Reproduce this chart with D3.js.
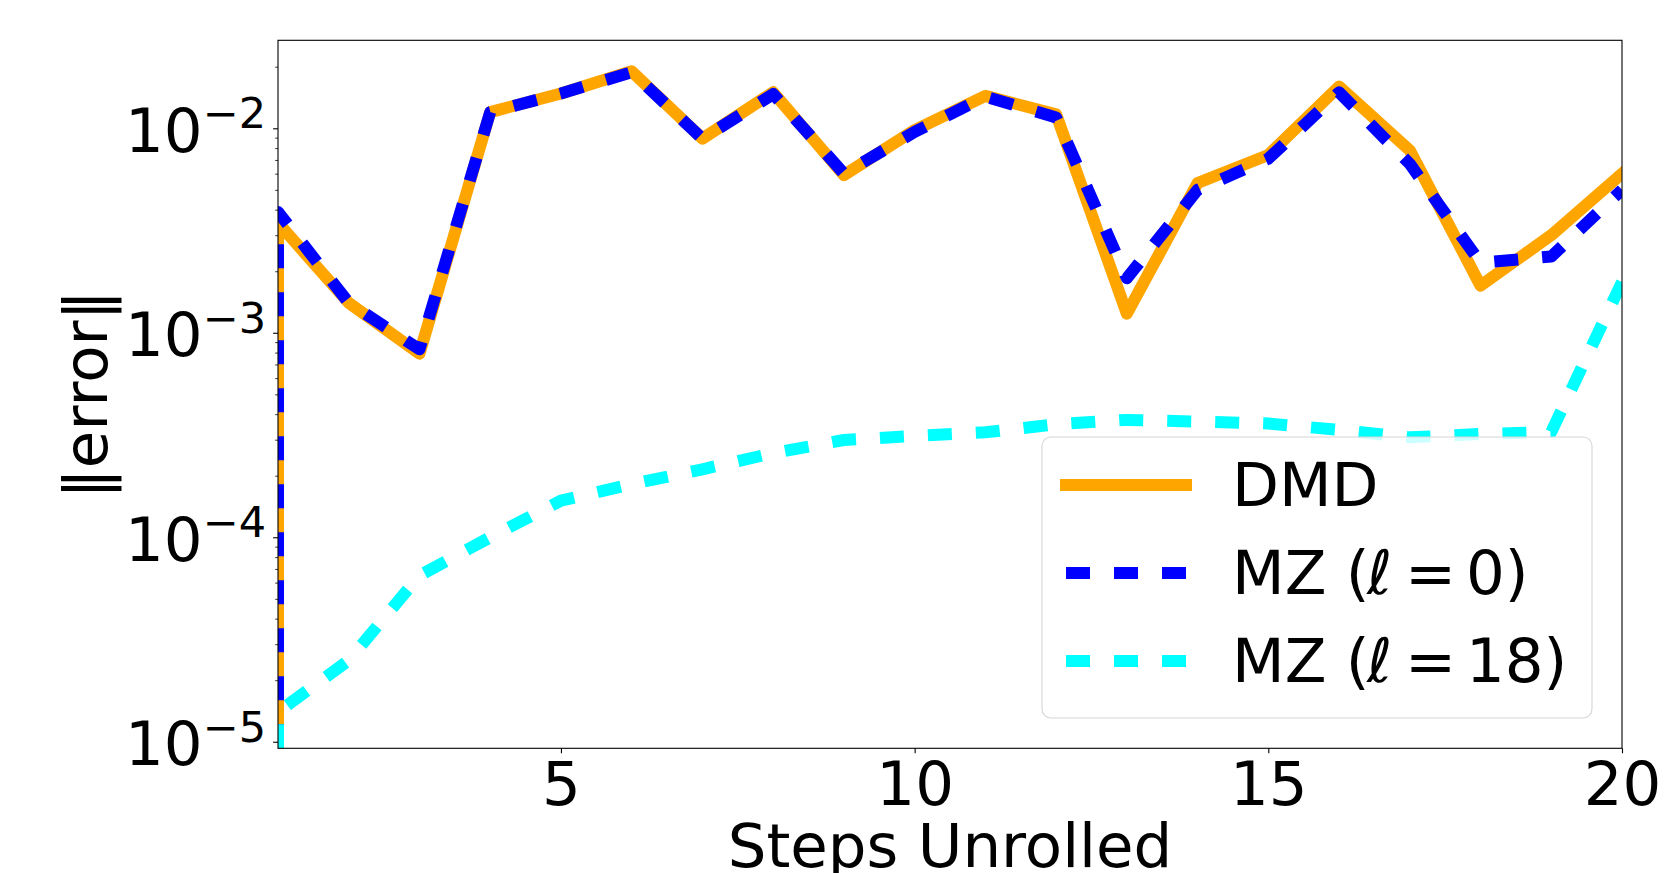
<!DOCTYPE html>
<html>
<head>
<meta charset="utf-8">
<script src="https://cdn.jsdelivr.net/npm/d3@7"></script>
<style>
    body { margin: 0; background: #ffffff; }
    svg text { font-family: "DejaVu Sans", sans-serif; fill: #000000; }
</style>
</head>
<body>
<svg id="chart" width="1666" height="873"></svg>
<script>

// steps unrolled; every curve starts from zero at step 1 (drawn as the vertical edge)
const steps = [1, 1, 2, 3, 4, 5, 6, 7, 8, 9, 10, 11, 12, 13, 14, 15, 16, 17, 18, 19, 20];

const dmd  = [0, 3.45e-3, 1.40e-3, 7.9e-4, 1.20e-2, 1.48e-2, 1.90e-2, 8.9e-3, 1.50e-2, 5.9e-3, 9.8e-3,
              1.44e-2, 1.17e-2, 1.24e-3, 5.4e-3, 7.4e-3, 1.60e-2, 7.8e-3, 1.70e-3, 3.0e-3, 6.0e-3];

const mz0  = [0, 3.9e-3, 1.40e-3, 8.3e-4, 1.20e-2, 1.48e-2, 1.88e-2, 8.9e-3, 1.47e-2, 6.0e-3, 9.6e-3,
              1.43e-2, 1.13e-2, 1.85e-3, 5.0e-3, 7.1e-3, 1.50e-2, 6.7e-3, 2.2e-3, 2.36e-3, 5.0e-3];

const mz18 = [0, 1.4e-5, 2.5e-5, 6.5e-5, 1.0e-4, 1.51e-4, 1.82e-4, 2.15e-4, 2.58e-4, 2.99e-4, 3.13e-4,
              3.26e-4, 3.57e-4, 3.75e-4, 3.68e-4, 3.6e-4, 3.35e-4, 3.08e-4, 3.2e-4, 3.27e-4, 1.77e-3];

const xTicks = [5, 10, 15, 20];
const yMajor = [1e-5, 1e-4, 1e-3, 1e-2];

const series = [
    {values: dmd,  color: "#FFA500", dashed: false, label: "DMD"},
    {values: mz0,  color: "#0000FF", dashed: true,  label: "MZ (", ell: "0"},
    {values: mz18, color: "#00FFFF", dashed: true,  label: "MZ (", ell: "18"},
];

const margin = {left: 278, top: 40.3, right: 1622, bottom: 748.3};
const lw = 12;

const svg = d3.select("#chart");

const x = d3.scaleLinear()
    .domain([1, 20])
    .range([margin.left, margin.right]);

const y = d3.scaleLog()
    .domain([Math.pow(10, -5.032), Math.pow(10, -1.5697)])
    .range([margin.bottom, margin.top]);

// zero has no place on a log axis: pin it to the bottom edge
const yPos = v => v > 0 ? y(v) : y.range()[0];

svg.append("defs").append("clipPath")
    .attr("id", "plotClip")
    .append("rect")
    .attr("x", margin.left)
    .attr("y", margin.top)
    .attr("width", margin.right - margin.left)
    .attr("height", margin.bottom - margin.top);

const line = d3.line()
    .x(d => x(d[0]))
    .y(d => yPos(d[1]));

const plot = svg.append("g").attr("clip-path", "url(#plotClip)");

series.forEach(s => {
    const pts = steps.map((st, i) => [st, s.values[i]]);
    plot.append("path")
        .attr("d", line(pts))
        .attr("fill", "none")
        .attr("stroke", s.color)
        .attr("stroke-width", lw)
        .attr("stroke-linejoin", "round")
        .attr("stroke-linecap", s.dashed ? "butt" : "square")
        .attr("stroke-dasharray", s.dashed ? "24,24" : null);
});

// x axis
const xAxis = svg.append("g")
    .attr("transform", `translate(0,${margin.bottom})`)
    .style("color", "#000")
    .call(d3.axisBottom(x).tickValues(xTicks).tickSize(4.9).tickPadding(8.5).tickFormat(d3.format("d")));
xAxis.select(".domain").remove();
xAxis.selectAll("line").attr("stroke-width", 1.1);
xAxis.selectAll("text")
    .style("font-size", "61px")
    .style("font-family", "DejaVu Sans, sans-serif");

// y axis, major + minor ticks
const yMinor = [];
[-6, -5, -4, -3, -2].forEach(e => {
    for (let k = 2; k <= 9; k++) {
        const v = k * Math.pow(10, e);
        if (v >= y.domain()[0] && v <= y.domain()[1]) yMinor.push(v);
    }
});

const yAxisMajor = svg.append("g")
    .attr("transform", `translate(${margin.left},0)`)
    .style("color", "#000")
    .call(d3.axisLeft(y).tickValues(yMajor).tickSize(4.9).tickFormat(""));
yAxisMajor.select(".domain").remove();
yAxisMajor.selectAll("line").attr("stroke-width", 1.1);

const yAxisMinor = svg.append("g")
    .attr("transform", `translate(${margin.left},0)`)
    .style("color", "#000")
    .call(d3.axisLeft(y).tickValues(yMinor).tickSize(2.8).tickFormat(""));
yAxisMinor.select(".domain").remove();
yAxisMinor.selectAll("line").attr("stroke-width", 0.8);

// 10^k labels
yMajor.forEach(v => {
    const e = Math.round(Math.log10(v));
    const t = svg.append("text")
        .attr("x", margin.left - 12)
        .attr("y", y(v) + 23.4)
        .attr("text-anchor", "end")
        .style("font-size", "61px");
    t.append("tspan").text("10");
    t.append("tspan")
        .attr("dy", -23.4)
        .style("font-size", "43px")
        .text("\u2212" + Math.abs(e));
});

// frame
svg.append("rect")
    .attr("x", margin.left)
    .attr("y", margin.top)
    .attr("width", margin.right - margin.left)
    .attr("height", margin.bottom - margin.top)
    .attr("fill", "none")
    .attr("stroke", "#000")
    .attr("stroke-width", 1.1);

// axis titles
svg.append("text")
    .attr("x", (margin.left + margin.right) / 2)
    .attr("y", 867)
    .attr("text-anchor", "middle")
    .style("font-size", "61px")
    .text("Steps Unrolled");

svg.append("text")
    .attr("transform", `translate(107,${(margin.top + margin.bottom) / 2}) rotate(-90)`)
    .attr("text-anchor", "middle")
    .style("font-size", "61px")
    .text("\u2016error\u2016");

// legend
const legend = svg.append("g").attr("transform", "translate(1042,437)");

legend.append("rect")
    .attr("width", 550)
    .attr("height", 281)
    .attr("rx", 9)
    .attr("fill", "#fff")
    .attr("fill-opacity", 0.8)
    .attr("stroke", "#d6d6d6")
    .attr("stroke-width", 1.1);

series.forEach((s, i) => {
    const ly = 48 + i * 88;
    legend.append("line")
        .attr("x1", 24).attr("x2", 144)
        .attr("y1", ly).attr("y2", ly)
        .attr("stroke", s.color)
        .attr("stroke-width", lw)
        .attr("stroke-linecap", s.dashed ? "butt" : "square")
        .attr("stroke-dasharray", s.dashed ? "24,24" : null);

    const t = legend.append("text")
        .attr("x", 190)
        .attr("y", ly + 21)
        .style("font-size", "61px");
    t.append("tspan").text(s.label);
    if (s.ell) {
        t.append("tspan").attr("x", 325).style("font-style", "italic").text("\u2113");
        t.append("tspan").attr("x", 363).text("=");
        t.append("tspan").attr("x", 424).text(s.ell);
        t.append("tspan").attr("x", 424 + 38.8 * s.ell.length).text(")");
    }
});

</script>
</body>
</html>
